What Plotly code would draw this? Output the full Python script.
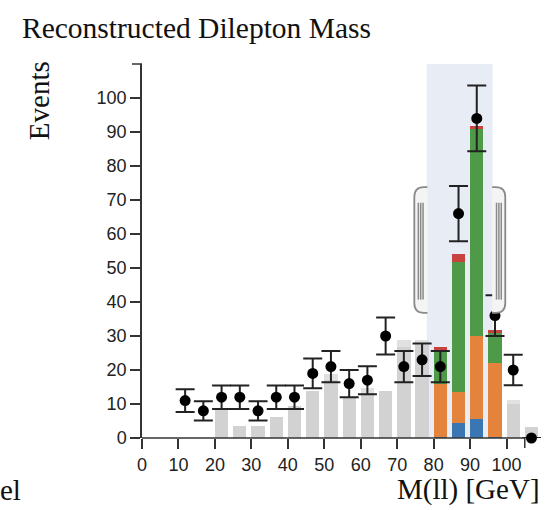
import numpy as np
import plotly.graph_objects as go

# ---------------- data ----------------
bin_width = 5
bin_low = [0, 5, 10, 15, 20, 25, 30, 35, 40, 45, 50, 55, 60, 65, 70, 75, 80, 85, 90, 95, 100, 105]

# observed data (None = no point)
data_counts = [None, None, 11, 8, 12, 12, 8, 12, 12, 19, 21, 16, 17, 30, 21, 23, 21, 66, 94, 36, 20, 0]

# background (gray) prediction: main part and total incl. lighter top part
gray_main = [0, 0, 0, 0, 8.2, 3.4, 3.4, 6.3, 9.3, 13.7, 17.1, 11.8, 13.1, 13.7, 26.9, 27.4, 0, 0, 0, 0, 10.1, 3.1]
gray_total = [0, 0, 0, 0, 8.5, 3.4, 3.4, 6.3, 9.5, 13.7, 18.9, 11.8, 14.7, 13.7, 28.7, 28.9, 0, 0, 0, 0, 11.3, 3.1]

# stacked components inside the selected window
sel_bins = [80, 85, 90, 95]
comp_blue = [0.4, 4.4, 5.6, 0.4]
comp_orange = [15.5, 9.0, 24.5, 21.8]
comp_green = [10.1, 38.5, 60.8, 8.7]
comp_red = [0.8, 2.2, 1.0, 0.9]

x_ticks = [0, 10, 20, 30, 40, 50, 60, 70, 80, 90, 100]
y_ticks = [0, 10, 20, 30, 40, 50, 60, 70, 80, 90, 100]
brush = [78.1, 96.2]
x_axis_end = 105
x_range = [0, 110]
y_range = [0, 110]

# ---------------- style ----------------
BAR_W = 3.65
OFF = 1.83
serif = "Liberation Serif, Times New Roman, serif"
sans = "Liberation Sans, Arial, Helvetica, sans-serif"
axis_col = "#333333"

fig = go.Figure()

xc = [b + OFF for b in bin_low]
fig.add_trace(go.Bar(x=xc, y=gray_total, width=BAR_W, marker=dict(color="#e1e1e1", line=dict(width=0)),
                     showlegend=False, hoverinfo="skip"))
fig.add_trace(go.Bar(x=xc, y=gray_main, width=BAR_W, marker=dict(color="#d2d2d2", line=dict(width=0)),
                     showlegend=False, hoverinfo="skip"))

sx = [b + OFF for b in sel_bins]
base = np.zeros(len(sel_bins))
for vals, col in [(comp_blue, "#3a77b2"), (comp_orange, "#e4843c"), (comp_green, "#4f9a48"), (comp_red, "#c8423f")]:
    v = np.array(vals)
    fig.add_trace(go.Bar(x=sx, y=v, base=base.copy(), width=BAR_W,
                         marker=dict(color=col, line=dict(width=0)), showlegend=False))
    base = base + v

dx = [b + OFF for b, c in zip(bin_low, data_counts) if c is not None]
dy = [c for c in data_counts if c is not None]
fig.add_trace(go.Scatter(x=dx, y=dy, mode="markers", cliponaxis=False,
                         marker=dict(color="black", size=11),
                         error_y=dict(type="data", array=list(np.sqrt(dy)), color="#222222",
                                      thickness=2, width=9.5),
                         showlegend=False))

shapes = []
# brush shade
shapes.append(dict(type="rect", xref="x", yref="y", x0=brush[0], x1=brush[1], y0=y_range[0], y1=y_range[1],
                   fillcolor="#e8edf5", line=dict(width=0), layer="below"))


def handle(edge, direction):
    # direction -1: handle to the left of edge, +1: to the right
    w = 3.6
    top, bot = 73.8, 36.8
    rx, ry = 2.6, 2.9
    xo = edge + direction * w
    path = (f"M {edge},{top} L {xo - direction * rx},{top} Q {xo},{top} {xo},{top - ry} "
            f"L {xo},{bot + ry} Q {xo},{bot} {xo - direction * rx},{bot} L {edge},{bot}")
    out = [dict(type="path", xref="x", yref="y", path=path, fillcolor="#f4f4f4",
                line=dict(color="#8a8a8a", width=1.8), layer="above")]
    for k in (1.1, 1.75, 2.4):
        xl = edge + direction * (w - k)
        out.append(dict(type="line", xref="x", yref="y", x0=xl, x1=xl, y0=69.2, y1=40.7,
                        line=dict(color="#8a8a8a", width=1.5), layer="above"))
    return out


shapes += handle(brush[0] + 0.2, -1)
shapes += handle(brush[1] - 0.15, 1)

# x axis line up to 105 and outer ticks
xe = (x_axis_end - x_range[0]) / (x_range[1] - x_range[0])
shapes.append(dict(type="line", xref="paper", yref="paper", x0=0, x1=xe, y0=0, y1=0,
                   line=dict(color=axis_col, width=1.5)))
shapes.append(dict(type="line", xref="paper", yref="paper", x0=xe, x1=xe, y0=0, y1=-10 / 374,
                   line=dict(color=axis_col, width=1.5)))
shapes.append(dict(type="line", xref="paper", yref="paper", x0=-10 / 401, x1=0, y0=1, y1=1,
                   line=dict(color=axis_col, width=1.5)))

annotations = [
    dict(text="Events", xref="paper", yref="paper", x=-0.258, y=0.902, textangle=-90,
         showarrow=False, font=dict(family=serif, size=29, color="#111"), xanchor="center", yanchor="middle"),
    dict(text="M(ll) [GeV]", xref="paper", yref="paper", x=0.997, y=-0.138, showarrow=False,
         font=dict(family=serif, size=29, color="#111"), xanchor="right", yanchor="middle"),
    dict(text="el", xref="paper", yref="paper", x=-0.296, y=-0.138, showarrow=False,
         font=dict(family=serif, size=29, color="#111"), xanchor="right", yanchor="middle"),
]

fig.update_layout(
    width=545, height=510,
    margin=dict(l=142, r=2, t=64, b=72, pad=0),
    plot_bgcolor="white", paper_bgcolor="white",
    barmode="overlay", bargap=0,
    title=dict(text="Reconstructed Dilepton Mass", xref="container", yref="container",
               x=22 / 545, xanchor="left", y=1 - 28 / 510, yanchor="middle",
               font=dict(family=serif, size=29.5, color="#111")),
    shapes=shapes, annotations=annotations,
    xaxis=dict(range=x_range, showgrid=False, zeroline=False, showline=False,
               ticks="outside", ticklen=10, tickwidth=1.5, tickcolor=axis_col,
               tickvals=x_ticks, ticktext=[str(t) for t in x_ticks],
               tickfont=dict(family=sans, size=18, color="#222")),
    yaxis=dict(range=y_range, showgrid=False, zeroline=False, showline=True, linecolor=axis_col, linewidth=1.5,
               ticks="outside", ticklen=10, tickwidth=1.5, tickcolor=axis_col,
               tickvals=y_ticks, ticktext=[str(t) for t in y_ticks],
               tickfont=dict(family=sans, size=18, color="#222")),
)

fig.write_html("out.html")
